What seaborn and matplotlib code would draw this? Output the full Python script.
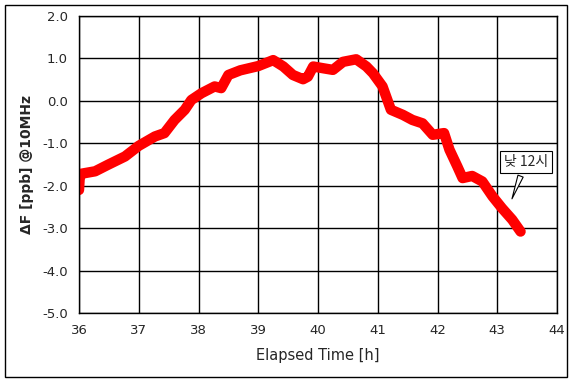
import matplotlib
matplotlib.use("Agg")
import matplotlib.pyplot as plt
import seaborn as sns
import pandas as pd
from matplotlib.patches import Rectangle

# Data (centre of the noisy trace)
elapsed_h = [36.0, 36.01, 36.03, 36.27, 36.48, 36.77, 37.0, 37.27, 37.43, 37.6, 37.77,
             37.88, 38.05, 38.27, 38.38, 38.5, 38.7, 39.0, 39.25, 39.42, 39.58,
             39.75, 39.83, 39.92, 40.08, 40.25, 40.42, 40.64, 40.81, 40.92,
             41.08, 41.22, 41.42, 41.58, 41.75, 41.92, 42.11, 42.2, 42.33,
             42.42, 42.58, 42.75, 42.92, 43.08, 43.25, 43.39]
delta_f = [-2.1, -1.85, -1.72, -1.66, -1.51, -1.31, -1.06, -0.84, -0.76, -0.45, -0.21,
           0.02, 0.18, 0.34, 0.30, 0.61, 0.72, 0.82, 0.96, 0.81, 0.61,
           0.51, 0.57, 0.81, 0.77, 0.73, 0.92, 0.98, 0.81, 0.65,
           0.34, -0.21, -0.33, -0.45, -0.53, -0.80, -0.76, -1.15, -1.54,
           -1.82, -1.77, -1.90, -2.25, -2.53, -2.80, -3.08]
x_ticks = [36, 37, 38, 39, 40, 41, 42, 43, 44]
y_ticks = [2.0, 1.0, 0.0, -1.0, -2.0, -3.0, -4.0, -5.0]
note_text = "낮 12시"
note_xy = (43.23, -2.37)

df = pd.DataFrame({"t": elapsed_h, "df": delta_f})

sns.set_style("white")
plt.rcParams['font.family'] = ['DejaVu Sans', 'Noto Sans CJK KR']

fig = plt.figure(figsize=(5.72, 3.82), dpi=100)
ax = fig.add_axes([79/572, 1-313/382, (557-79)/572, (313-16)/382])

sns.lineplot(data=df, x="t", y="df", ax=ax, color="#ff0000", linewidth=7.5,
             solid_joinstyle="round", solid_capstyle="round")

ax.set_xlim(36, 44)
ax.set_ylim(-5, 2)
ax.set_xticks(x_ticks)
ax.set_yticks(y_ticks)
ax.set_xticklabels([str(v) for v in x_ticks], fontsize=9.5)
ax.set_yticklabels([f"{v:.1f}" for v in y_ticks], fontsize=9.5)
ax.tick_params(length=0, pad=8)
ax.grid(True, color="black", linewidth=1)
for s in ax.spines.values():
    s.set_color("black")
    s.set_linewidth(1)
ax.set_xlabel("Elapsed Time [h]", fontsize=10.5, labelpad=8)
ax.set_ylabel("ΔF [ppb] @10MHz", fontsize=10, fontweight="bold", labelpad=6)

ax.annotate(note_text, xy=note_xy, xytext=(43.48, -1.44),
            fontsize=10, family=['Noto Sans CJK KR', 'DejaVu Sans'], ha="center", va="center",
            bbox=dict(boxstyle="square,pad=0.3", fc="white", ec="black", lw=0.8),
            arrowprops=dict(arrowstyle="wedge,tail_width=0.4", fc="white", ec="black", lw=0.8))

fig.patches.append(Rectangle((5/572, 5/382), 562/572, 372/382, transform=fig.transFigure,
                             fill=False, ec="black", lw=1))

fig.savefig("out.png", dpi=100)
